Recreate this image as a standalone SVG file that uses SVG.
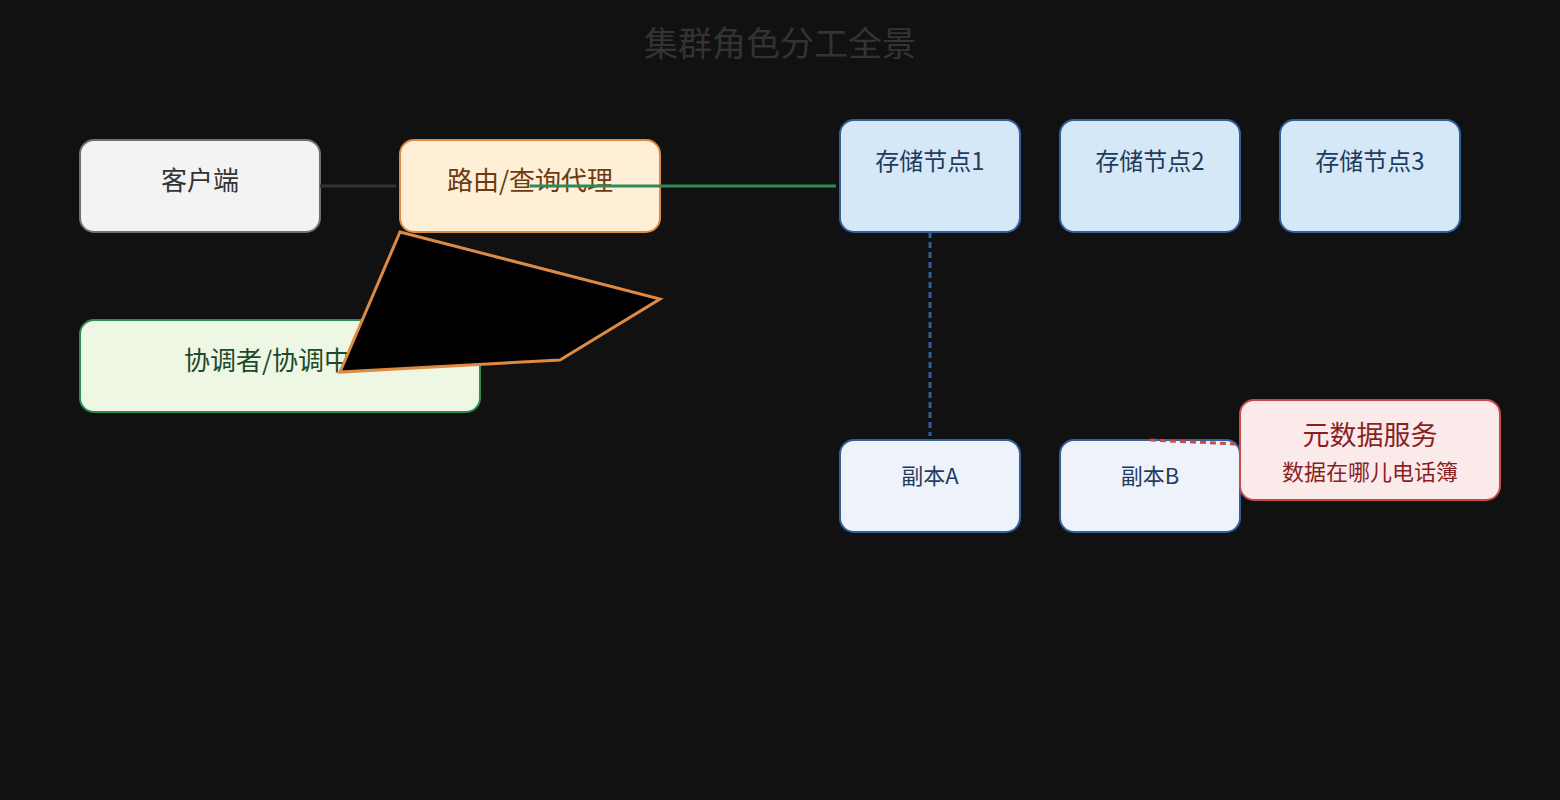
<svg xmlns="http://www.w3.org/2000/svg" width="1560" height="800" viewBox="0 0 1560 800">
<style>
text{font-family:"Noto Sans CJK SC","Noto Sans",sans-serif;text-anchor:middle}
.t{font-size:26px}
.s{font-size:24px}
.r{font-size:22px}
</style>
<rect width="1560" height="800" fill="#111111"/>
<text x="780" y="56" font-size="34" fill="#333333">集群角色分工全景</text>
<g id="client"><rect x="80" y="140" width="240" height="92" rx="14" fill="#f3f3f3" stroke="#707070" stroke-width="2"/><text class="t" x="200" y="190" fill="#333">客户端</text></g>
<g id="router"><rect x="400" y="140" width="260" height="92" rx="14" fill="#ffefd6" stroke="#dd8a45" stroke-width="2"/><text class="t" x="530" y="190" fill="#6b3b12">路由/查询代理</text></g>
<g id="coord"><rect x="80" y="320" width="400" height="92" rx="14" fill="#eef6e4" stroke="#2e8b57" stroke-width="2"/><text class="t" x="280" y="370" fill="#1c4a2c">协调者/协调中心</text></g>
<g id="s1"><rect x="840" y="120" width="180" height="112" rx="14" fill="#d5e8f7" stroke="#335f9a" stroke-width="2"/><text class="s" x="930" y="170" fill="#1f3b60">存储节点1</text></g>
<g id="s2"><rect x="1060" y="120" width="180" height="112" rx="14" fill="#d5e8f7" stroke="#335f9a" stroke-width="2"/><text class="s" x="1150" y="170" fill="#1f3b60">存储节点2</text></g>
<g id="s3"><rect x="1280" y="120" width="180" height="112" rx="14" fill="#d5e8f7" stroke="#335f9a" stroke-width="2"/><text class="s" x="1370" y="170" fill="#1f3b60">存储节点3</text></g>
<g id="ra"><rect x="840" y="440" width="180" height="92" rx="14" fill="#eef2fb" stroke="#335f9a" stroke-width="2"/><text class="r" x="930" y="484" fill="#1f3b60">副本A</text></g>
<g id="rb"><rect x="1060" y="440" width="180" height="92" rx="14" fill="#eef2fb" stroke="#335f9a" stroke-width="2"/><text class="r" x="1150" y="484" fill="#1f3b60">副本B</text></g>
<g id="meta"><rect x="1240" y="400" width="260" height="100" rx="14" fill="#fbeaea" stroke="#c84b4b" stroke-width="2"/><text x="1370" y="445" font-size="27" fill="#8b1f1f">元数据服务</text><text class="r" x="1370" y="480" fill="#8b1f1f">数据在哪儿电话簿</text></g>
<g id="connectors" fill="none">
<line x1="320" y1="186" x2="396" y2="186" stroke="#333" stroke-width="3"/>
<line x1="530" y1="186" x2="836" y2="186" stroke="#2e8b57" stroke-width="3"/>
<polygon points="400,232 660,299 560,360 340,372" fill="#000" stroke="#dd8a45" stroke-width="3"/>
<line x1="930" y1="232" x2="930" y2="436" stroke="#335f9a" stroke-width="3" stroke-dasharray="6 4"/>
<line x1="1150" y1="440" x2="1236" y2="444" stroke="#c84b4b" stroke-width="3" stroke-dasharray="6 4"/>
</g>
</svg>
